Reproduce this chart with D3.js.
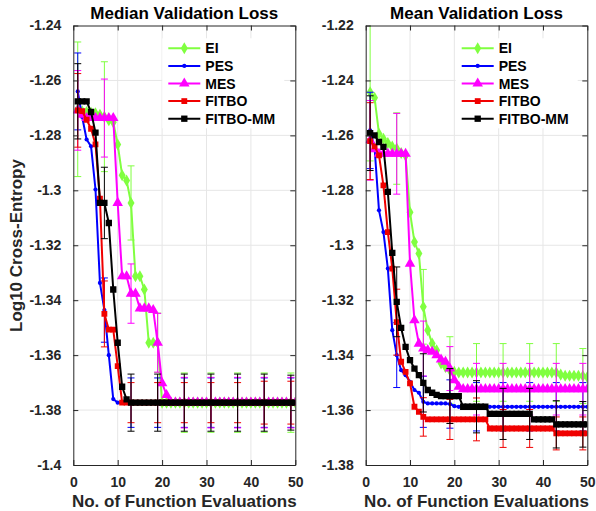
<!DOCTYPE html>
<html><head><meta charset="utf-8">
<script src="https://cdn.jsdelivr.net/npm/d3@7"></script>
<style>
body{margin:0;background:#fff;}
svg{font-family:"Liberation Sans",Arial,Helvetica,sans-serif;font-weight:bold;}
</style></head>
<body><svg id="c" width="596" height="511"></svg>
<script>
const evals = d3.range(1, 51);
const errAt = [1, 7, 13, 19, 25, 31, 37, 43, 49];
const xTicks = [0, 10, 20, 30, 40, 50];
const medYTicks = [-1.24, -1.26, -1.28, -1.3, -1.32, -1.34, -1.36, -1.38, -1.4];
const meanYTicks = [-1.22, -1.24, -1.26, -1.28, -1.3, -1.32, -1.34, -1.36, -1.38];
const seriesNames = ["EI", "PES", "MES", "FITBO", "FITBO-MM"];
const seriesColors = ["#80ff40", "#0000ff", "#ff00ff", "#f00000", "#000000"];

// Median validation loss
const medEI = [-1.2705,-1.2712,-1.2715,-1.2718,-1.2720,-1.2725,-1.2732,-1.2745,-1.2752,-1.2833,
 -1.2945,-1.2964,-1.3046,-1.3313,-1.3313,-1.3361,-1.3555,-1.3555,-1.3555,-1.3773,
 -1.3773,-1.3773,-1.3773,-1.3773,-1.3773,-1.3773,-1.3773,-1.3773,-1.3773,-1.3773,
 -1.3773,-1.3773,-1.3773,-1.3773,-1.3773,-1.3773,-1.3773,-1.3773,-1.3773,-1.3773,
 -1.3773,-1.3773,-1.3773,-1.3773,-1.3773,-1.3773,-1.3773,-1.3773,-1.3773,-1.3773];
const medPES = [-1.2640,-1.2733,-1.2815,-1.2840,-1.2997,-1.3337,-1.3436,-1.3600,-1.3760,-1.3773,
 -1.3773,-1.3773,-1.3773,-1.3773,-1.3773,-1.3773,-1.3773,-1.3773,-1.3773,-1.3773,
 -1.3773,-1.3773,-1.3773,-1.3773,-1.3773,-1.3773,-1.3773,-1.3773,-1.3773,-1.3773,
 -1.3773,-1.3773,-1.3773,-1.3773,-1.3773,-1.3773,-1.3773,-1.3773,-1.3773,-1.3773,
 -1.3773,-1.3773,-1.3773,-1.3773,-1.3773,-1.3773,-1.3773,-1.3773,-1.3773,-1.3773];
const medMES = [-1.2709,-1.2725,-1.2737,-1.2737,-1.2737,-1.2737,-1.2737,-1.2737,-1.2737,-1.3046,
 -1.3313,-1.3313,-1.3376,-1.3376,-1.3430,-1.3430,-1.3430,-1.3436,-1.3555,-1.3702,
 -1.3745,-1.3773,-1.3773,-1.3773,-1.3773,-1.3773,-1.3773,-1.3773,-1.3773,-1.3773,
 -1.3773,-1.3773,-1.3773,-1.3773,-1.3773,-1.3773,-1.3773,-1.3773,-1.3773,-1.3773,
 -1.3773,-1.3773,-1.3773,-1.3773,-1.3773,-1.3773,-1.3773,-1.3773,-1.3773,-1.3773];
const medFITBO = [-1.2709,-1.2712,-1.2743,-1.2776,-1.2833,-1.3030,-1.3450,-1.3507,-1.3507,-1.3640,
 -1.3773,-1.3773,-1.3773,-1.3773,-1.3773,-1.3773,-1.3773,-1.3773,-1.3773,-1.3773,
 -1.3773,-1.3773,-1.3773,-1.3773,-1.3773,-1.3773,-1.3773,-1.3773,-1.3773,-1.3773,
 -1.3773,-1.3773,-1.3773,-1.3773,-1.3773,-1.3773,-1.3773,-1.3773,-1.3773,-1.3773,
 -1.3773,-1.3773,-1.3773,-1.3773,-1.3773,-1.3773,-1.3773,-1.3773,-1.3773,-1.3773];
const medMM = [-1.2676,-1.2676,-1.2676,-1.2715,-1.2790,-1.3046,-1.3046,-1.3119,-1.3361,-1.3555,
 -1.3715,-1.3761,-1.3773,-1.3773,-1.3773,-1.3773,-1.3773,-1.3773,-1.3773,-1.3773,
 -1.3773,-1.3773,-1.3773,-1.3773,-1.3773,-1.3773,-1.3773,-1.3773,-1.3773,-1.3773,
 -1.3773,-1.3773,-1.3773,-1.3773,-1.3773,-1.3773,-1.3773,-1.3773,-1.3773,-1.3773,
 -1.3773,-1.3773,-1.3773,-1.3773,-1.3773,-1.3773,-1.3773,-1.3773,-1.3773,-1.3773];
// half-widths of error bars at errAt
const medErrEI = [0.0245, 0.0200, 0.0135, 0.0108, 0.0108, 0.0108, 0.0108, 0.0108, 0.0108];
const medErrPES = [0.0140, 0.0117, 0.0090, 0.0090, 0.0090, 0.0090, 0.0090, 0.0090, 0.0090];
const medErrMES = [0.0145, 0.0142, 0.0108, 0.0107, 0.0092, 0.0092, 0.0092, 0.0092, 0.0092];
const medErrFITBO = [0.0134, 0.0120, 0.0073, 0.0073, 0.0073, 0.0073, 0.0073, 0.0078, 0.0078];
const medErrMM = [0.0137, 0.0130, 0.0104, 0.0104, 0.0104, 0.0104, 0.0104, 0.0104, 0.0100];

// Mean validation loss
const meanEI = [-1.2443,-1.2463,-1.2594,-1.2612,-1.2628,-1.2641,-1.2648,-1.2664,-1.2673,-1.2880,
 -1.2988,-1.3030,-1.3224,-1.3309,-1.3358,-1.3382,-1.3430,-1.3443,-1.3455,-1.3461,
 -1.3463,-1.3463,-1.3463,-1.3463,-1.3463,-1.3463,-1.3463,-1.3463,-1.3463,-1.3463,
 -1.3463,-1.3463,-1.3463,-1.3463,-1.3463,-1.3463,-1.3463,-1.3463,-1.3463,-1.3463,
 -1.3463,-1.3463,-1.3463,-1.3471,-1.3475,-1.3475,-1.3475,-1.3475,-1.3476,-1.3480];
const meanPES = [-1.2582,-1.2644,-1.2873,-1.2952,-1.3085,-1.3309,-1.3400,-1.3455,-1.3473,-1.3497,
 -1.3527,-1.3537,-1.3570,-1.3576,-1.3576,-1.3576,-1.3576,-1.3576,-1.3578,-1.3586,
 -1.3588,-1.3588,-1.3588,-1.3588,-1.3588,-1.3588,-1.3588,-1.3588,-1.3588,-1.3588,
 -1.3588,-1.3588,-1.3588,-1.3588,-1.3588,-1.3588,-1.3588,-1.3588,-1.3588,-1.3588,
 -1.3588,-1.3588,-1.3588,-1.3588,-1.3588,-1.3588,-1.3588,-1.3588,-1.3588,-1.3588];
const meanMES = [-1.2618,-1.2650,-1.2667,-1.2667,-1.2667,-1.2667,-1.2667,-1.2667,-1.2667,-1.3067,
 -1.3273,-1.3358,-1.3376,-1.3382,-1.3388,-1.3400,-1.3416,-1.3424,-1.3449,-1.3491,
 -1.3515,-1.3524,-1.3524,-1.3524,-1.3524,-1.3524,-1.3524,-1.3524,-1.3524,-1.3524,
 -1.3524,-1.3524,-1.3524,-1.3524,-1.3524,-1.3524,-1.3524,-1.3524,-1.3524,-1.3524,
 -1.3524,-1.3524,-1.3524,-1.3524,-1.3524,-1.3524,-1.3524,-1.3524,-1.3524,-1.3524];
const meanFITBO = [-1.2621,-1.2640,-1.2673,-1.2782,-1.2952,-1.3085,-1.3280,-1.3424,-1.3461,-1.3503,
 -1.3588,-1.3606,-1.3625,-1.3634,-1.3634,-1.3634,-1.3634,-1.3634,-1.3634,-1.3634,
 -1.3634,-1.3634,-1.3634,-1.3634,-1.3634,-1.3634,-1.3634,-1.3667,-1.3667,-1.3667,
 -1.3667,-1.3667,-1.3667,-1.3667,-1.3667,-1.3667,-1.3667,-1.3667,-1.3667,-1.3667,
 -1.3667,-1.3667,-1.3685,-1.3685,-1.3685,-1.3685,-1.3685,-1.3685,-1.3685,-1.3685];
const meanMM = [-1.2592,-1.2600,-1.2624,-1.2642,-1.2806,-1.3028,-1.3206,-1.3301,-1.3370,-1.3418,
 -1.3449,-1.3473,-1.3501,-1.3527,-1.3537,-1.3545,-1.3549,-1.3549,-1.3549,-1.3549,
 -1.3549,-1.3588,-1.3588,-1.3588,-1.3588,-1.3588,-1.3588,-1.3614,-1.3614,-1.3614,
 -1.3614,-1.3614,-1.3614,-1.3614,-1.3614,-1.3614,-1.3614,-1.3634,-1.3634,-1.3634,
 -1.3634,-1.3634,-1.3652,-1.3652,-1.3652,-1.3652,-1.3652,-1.3652,-1.3652,-1.3652];
const meanErrEI = [0.0250, 0.0130, 0.0136, 0.0122, 0.0105, 0.0105, 0.0105, 0.0105, 0.0100];
const meanErrPES = [0.0139, 0.0118, 0.0093, 0.0088, 0.0088, 0.0088, 0.0088, 0.0088, 0.0088];
const meanErrMES = [0.0145, 0.0147, 0.0100, 0.0080, 0.0094, 0.0094, 0.0094, 0.0094, 0.0094];
const meanErrFITBO = [0.0140, 0.0120, 0.0070, 0.0073, 0.0078, 0.0069, 0.0069, 0.0060, 0.0060];
const meanErrMM = [0.0136, 0.0127, 0.0106, 0.0100, 0.0095, 0.0093, 0.0093, 0.0086, 0.0083];

const svg = d3.select("#c");
const symbols = [
  d3.symbol().type(d3.symbolDiamond).size(42),
  d3.symbol().type(d3.symbolCircle).size(14),
  d3.symbol().type(d3.symbolTriangle).size(48),
  d3.symbol().type(d3.symbolSquare).size(34),
  d3.symbol().type(d3.symbolSquare).size(40)
];

function panel(opts) {
  const x = d3.scaleLinear().domain([0, 50]).range(opts.xr);
  const y = d3.scaleLinear().domain(opts.yd).range([465, 25.5]);
  const g = svg.append("g");
  const [x0, x1] = opts.xr, y0 = 465, y1 = 25.5;
  // grid
  g.append("g").selectAll("line").data(xTicks.slice(1, -1)).join("line")
    .attr("x1", d => x(d)).attr("x2", d => x(d)).attr("y1", y1).attr("y2", y0)
    .attr("stroke", "#e6e6e6").attr("stroke-width", 1);
  g.append("g").selectAll("line").data(opts.yticks.slice(1, -1)).join("line")
    .attr("y1", d => y(d)).attr("y2", d => y(d)).attr("x1", x0).attr("x2", x1)
    .attr("stroke", "#e6e6e6").attr("stroke-width", 1);
  // legend background
  const lg = opts.legend;
  // data
  const clipId = "clip" + opts.id;
  svg.append("clipPath").attr("id", clipId).append("rect")
    .attr("x", x0).attr("y", y1).attr("width", x1 - x0).attr("height", y0 - y1);
  const dg = g.append("g").attr("clip-path", `url(#${clipId})`);
  const line = d3.line().x((d, i) => x(evals[i])).y(d => y(d));
  opts.series.forEach((s, k) => {
    const col = seriesColors[k];
    const eg = dg.append("g");
    errAt.forEach((e, j) => {
      const v = s[e - 1], h = opts.errs[k][j];
      const px = x(e);
      eg.append("line").attr("x1", px).attr("x2", px).attr("y1", y(v + h)).attr("y2", y(v - h))
        .attr("stroke", col).attr("stroke-width", 1);
      [v + h, v - h].forEach(t => eg.append("line").attr("x1", px - 3.5).attr("x2", px + 3.5)
        .attr("y1", y(t)).attr("y2", y(t)).attr("stroke", col).attr("stroke-width", 1));
    });
    dg.append("path").datum(s).attr("d", line).attr("fill", "none")
      .attr("stroke", col).attr("stroke-width", 2).attr("stroke-linejoin", "round");
    dg.append("g").selectAll("path").data(s).join("path")
      .attr("transform", (d, i) => `translate(${x(evals[i])},${y(d)})`)
      .attr("d", symbols[k]()).attr("fill", col);
  });
  // axes box with inward ticks
  const axc = "#262626";
  const ax = (a, tr) => g.append("g").attr("transform", tr).call(a)
    .call(s => s.select(".domain").attr("stroke", axc).attr("stroke-width", 1))
    .call(s => s.selectAll(".tick line").attr("stroke", axc))
    .call(s => s.selectAll("text").attr("fill", axc).style("font-size", "14px").style("font-weight", "bold").style("font-family", "Liberation Sans, Arial, sans-serif"));
  ax(d3.axisBottom(x).tickValues(xTicks).tickSize(-5).tickPadding(12).tickSizeOuter(0).tickFormat(d => String(d)), `translate(0,${y0})`);
  ax(d3.axisTop(x).tickValues(xTicks).tickSize(-5).tickSizeOuter(0).tickFormat(""), `translate(0,${y1})`);
  ax(d3.axisLeft(y).tickValues(opts.yticks).tickSize(-5).tickPadding(12).tickSizeOuter(0).tickFormat(d => String(d)), `translate(${x0},0)`);
  ax(d3.axisRight(y).tickValues(opts.yticks).tickSize(-5).tickSizeOuter(0).tickFormat(""), `translate(${x1},0)`);
  // title
  g.append("text").attr("x", (x0 + x1) / 2).attr("y", 18.5).attr("text-anchor", "middle")
    .style("font-size", "17px").attr("fill", "#000").text(opts.title);
  g.append("text").attr("x", (x0 + x1) / 2).attr("y", 507).attr("text-anchor", "middle")
    .style("font-size", "17px").attr("fill", "#262626").text("No. of Function Evaluations");
  // legend
  const leg = g.append("g");
  leg.append("rect").attr("x", lg.x - 6).attr("y", lg.y - 10).attr("width", 122).attr("height", 90).attr("fill", "#fff");
  seriesNames.forEach((n, k) => {
    const yy = lg.y + k * 17.6;
    leg.append("line").attr("x1", lg.x).attr("x2", lg.x + 32).attr("y1", yy).attr("y2", yy)
      .attr("stroke", seriesColors[k]).attr("stroke-width", 2);
    leg.append("path").attr("transform", `translate(${lg.x + 16},${yy})`).attr("d", symbols[k]()).attr("fill", seriesColors[k]);
    leg.append("text").attr("x", lg.x + 37).attr("y", yy + 5).style("font-size", "14px").attr("fill", "#000").text(n);
  });
}

panel({id: "L", xr: [73.3, 295.3], yd: [-1.4, -1.24], yticks: medYTicks, title: "Median Validation Loss",
  series: [medEI, medPES, medMES, medFITBO, medMM],
  errs: [medErrEI, medErrPES, medErrMES, medErrFITBO, medErrMM], legend: {x: 168.3, y: 48.3}});
panel({id: "R", xr: [365.7, 587.3], yd: [-1.38, -1.22], yticks: meanYTicks, title: "Mean Validation Loss",
  series: [meanEI, meanPES, meanMES, meanFITBO, meanMM],
  errs: [meanErrEI, meanErrPES, meanErrMES, meanErrFITBO, meanErrMM], legend: {x: 461.7, y: 48.3}});

svg.append("text").attr("transform", "translate(22,332) rotate(-90)").attr("text-anchor", "start")
  .style("font-size", "17px").attr("fill", "#262626").text("Log10 Cross-Entropy");
</script></body></html>
